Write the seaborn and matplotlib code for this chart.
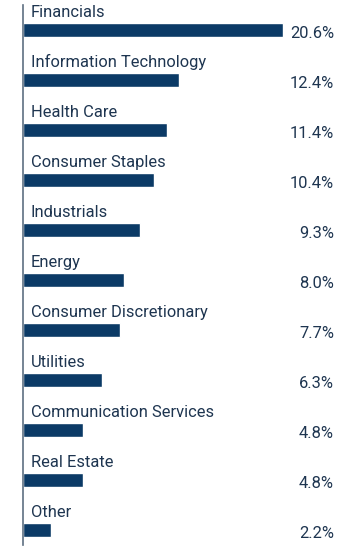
import matplotlib
matplotlib.use("Agg")
import matplotlib.pyplot as plt
import seaborn as sns

sectors = ["Financials", "Information Technology", "Health Care", "Consumer Staples",
           "Industrials", "Energy", "Consumer Discretionary", "Utilities",
           "Communication Services", "Real Estate", "Other"]
weights = [20.6, 12.4, 11.4, 10.4, 9.3, 8.0, 7.7, 6.3, 4.8, 4.8, 2.2]
value_labels = ["20.6%", "12.4%", "11.4%", "10.4%", "9.3%", "8.0%", "7.7%",
                "6.3%", "4.8%", "4.8%", "2.2%"]

sns.set_style("white")
plt.rcParams['font.family'] = ['Roboto', 'DejaVu Sans']

bar_color = "#0b3a66"
text_color = "#1e3550"

fig = plt.figure(figsize=(3.6, 5.47), dpi=100)
ax = fig.add_axes([23 / 360, 2 / 547, 337 / 360, 540 / 547])

sns.barplot(x=weights, y=sectors, orient="h", color=bar_color, width=0.29,
            saturation=1, ax=ax)

ax.set_xlim(0, 337 / 12.6)
ax.set_ylim(10.3, -0.5)
ax.set_xticks([])
ax.set_yticks([])
ax.set_xlabel("")
ax.set_ylabel("")
for s in ["top", "right", "bottom"]:
    ax.spines[s].set_visible(False)
ax.spines["left"].set_color("#5d6f82")
ax.spines["left"].set_linewidth(1.2)

trans = ax.get_yaxis_transform()
for i, (name, lab) in enumerate(zip(sectors, value_labels)):
    ax.text(8 / 337, i - 0.26, name, transform=trans, ha="left", va="baseline",
            fontsize=11.9, color=text_color)
    ax.text(311 / 337, i + 0.06, lab, transform=trans, ha="right", va="center",
            fontsize=11.9, color=text_color)

fig.savefig("out.png", dpi=100)
